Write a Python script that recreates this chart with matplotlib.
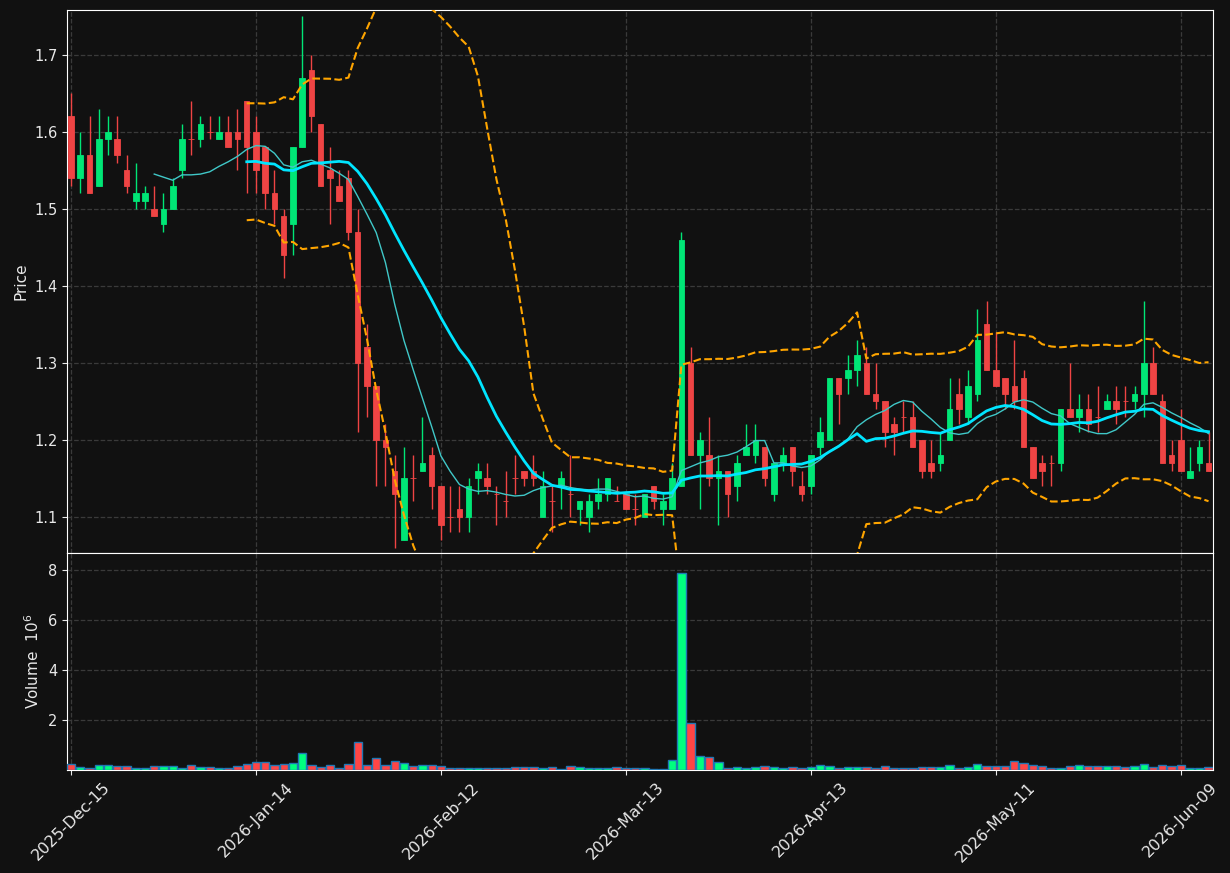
import matplotlib
matplotlib.use("Agg")
import matplotlib.pyplot as plt
import numpy as np
import pandas as pd

# daily OHLC (price) and volume (millions)
opens = [
    1.62, 1.54, 1.57, 1.53, 1.59, 1.59, 1.55, 1.51, 1.51, 1.50,
    1.48, 1.50, 1.55, 1.59, 1.59, 1.60, 1.59, 1.60, 1.60, 1.64,
    1.60, 1.58, 1.52, 1.49, 1.48, 1.58, 1.68, 1.61, 1.55, 1.53,
    1.54, 1.47, 1.32, 1.27, 1.20, 1.16, 1.07, 1.15, 1.16, 1.18,
    1.14, 1.10, 1.11, 1.10, 1.15, 1.15, 1.13, 1.12, 1.15, 1.16,
    1.16, 1.10, 1.12, 1.14, 1.13, 1.11, 1.10, 1.12, 1.13, 1.12,
    1.13, 1.11, 1.10, 1.14, 1.11, 1.11, 1.14, 1.30, 1.18, 1.18,
    1.15, 1.16, 1.14, 1.18, 1.18, 1.19, 1.13, 1.17, 1.19, 1.14,
    1.14, 1.19, 1.20, 1.28, 1.28, 1.29, 1.30, 1.26, 1.25, 1.22,
    1.23, 1.23, 1.20, 1.17, 1.17, 1.20, 1.26, 1.23, 1.26, 1.35,
    1.29, 1.28, 1.27, 1.28, 1.19, 1.17, 1.17, 1.17, 1.24, 1.23,
    1.24, 1.23, 1.24, 1.25, 1.25, 1.25, 1.26, 1.30, 1.25, 1.18,
    1.20, 1.15, 1.17, 1.17,
]
highs = [
    1.65, 1.60, 1.62, 1.63, 1.62, 1.62, 1.57, 1.56, 1.53, 1.53,
    1.52, 1.54, 1.61, 1.64, 1.62, 1.62, 1.62, 1.62, 1.63, 1.64,
    1.62, 1.58, 1.55, 1.50, 1.58, 1.75, 1.70, 1.61, 1.58, 1.55,
    1.55, 1.50, 1.35, 1.27, 1.22, 1.18, 1.19, 1.18, 1.23, 1.19,
    1.14, 1.14, 1.14, 1.15, 1.17, 1.17, 1.14, 1.16, 1.18, 1.16,
    1.18, 1.16, 1.14, 1.16, 1.18, 1.12, 1.13, 1.15, 1.15, 1.14,
    1.13, 1.13, 1.13, 1.14, 1.13, 1.17, 1.47, 1.32, 1.21, 1.23,
    1.18, 1.16, 1.18, 1.22, 1.22, 1.19, 1.17, 1.19, 1.19, 1.16,
    1.18, 1.23, 1.28, 1.28, 1.31, 1.33, 1.32, 1.30, 1.25, 1.23,
    1.25, 1.25, 1.20, 1.20, 1.21, 1.28, 1.28, 1.29, 1.37, 1.38,
    1.34, 1.28, 1.33, 1.29, 1.19, 1.18, 1.18, 1.24, 1.30, 1.26,
    1.26, 1.27, 1.26, 1.27, 1.27, 1.27, 1.38, 1.32, 1.26, 1.20,
    1.24, 1.19, 1.20, 1.21,
]
lows = [
    1.53, 1.52, 1.52, 1.53, 1.57, 1.56, 1.52, 1.50, 1.50, 1.49,
    1.47, 1.50, 1.54, 1.57, 1.58, 1.59, 1.59, 1.58, 1.55, 1.52,
    1.52, 1.50, 1.48, 1.41, 1.44, 1.58, 1.60, 1.53, 1.48, 1.51,
    1.46, 1.21, 1.23, 1.14, 1.14, 1.06, 1.07, 1.12, 1.16, 1.11,
    1.07, 1.08, 1.08, 1.08, 1.13, 1.13, 1.09, 1.10, 1.13, 1.14,
    1.14, 1.10, 1.08, 1.11, 1.10, 1.09, 1.08, 1.11, 1.12, 1.12,
    1.11, 1.09, 1.10, 1.11, 1.09, 1.11, 1.14, 1.18, 1.11, 1.14,
    1.09, 1.10, 1.12, 1.18, 1.17, 1.14, 1.12, 1.16, 1.14, 1.12,
    1.13, 1.18, 1.20, 1.22, 1.26, 1.27, 1.26, 1.24, 1.19, 1.18,
    1.21, 1.19, 1.15, 1.15, 1.16, 1.20, 1.22, 1.22, 1.25, 1.29,
    1.27, 1.24, 1.24, 1.19, 1.15, 1.14, 1.14, 1.16, 1.23, 1.21,
    1.21, 1.21, 1.24, 1.22, 1.23, 1.24, 1.23, 1.26, 1.17, 1.16,
    1.16, 1.15, 1.16, 1.16,
]
closes = [
    1.54, 1.57, 1.52, 1.59, 1.60, 1.57, 1.53, 1.52, 1.52, 1.49,
    1.50, 1.53, 1.59, 1.59, 1.61, 1.60, 1.60, 1.58, 1.59, 1.58,
    1.55, 1.52, 1.50, 1.44, 1.58, 1.67, 1.62, 1.53, 1.54, 1.51,
    1.47, 1.30, 1.27, 1.20, 1.19, 1.13, 1.15, 1.15, 1.17, 1.14,
    1.09, 1.10, 1.10, 1.14, 1.16, 1.14, 1.13, 1.12, 1.15, 1.15,
    1.15, 1.14, 1.12, 1.15, 1.13, 1.12, 1.12, 1.13, 1.15, 1.12,
    1.11, 1.11, 1.13, 1.12, 1.12, 1.15, 1.46, 1.18, 1.20, 1.15,
    1.16, 1.13, 1.17, 1.19, 1.20, 1.15, 1.17, 1.18, 1.16, 1.13,
    1.18, 1.21, 1.28, 1.26, 1.29, 1.31, 1.26, 1.25, 1.21, 1.21,
    1.23, 1.19, 1.16, 1.16, 1.18, 1.24, 1.24, 1.27, 1.33, 1.29,
    1.27, 1.26, 1.25, 1.19, 1.15, 1.16, 1.17, 1.24, 1.23, 1.24,
    1.22, 1.23, 1.25, 1.24, 1.25, 1.26, 1.30, 1.26, 1.17, 1.17,
    1.16, 1.16, 1.19, 1.16,
]
volume_m = [
    0.23, 0.11, 0.07, 0.19, 0.19, 0.15, 0.15, 0.07, 0.07, 0.15,
    0.15, 0.15, 0.07, 0.19, 0.11, 0.11, 0.07, 0.07, 0.15, 0.23,
    0.31, 0.31, 0.19, 0.23, 0.27, 0.67, 0.19, 0.11, 0.19, 0.07,
    0.23, 1.11, 0.19, 0.47, 0.19, 0.35, 0.27, 0.15, 0.19, 0.19,
    0.15, 0.07, 0.07, 0.07, 0.07, 0.07, 0.07, 0.07, 0.11, 0.11,
    0.11, 0.07, 0.11, 0.03, 0.15, 0.11, 0.07, 0.07, 0.07, 0.11,
    0.07, 0.07, 0.07, 0.03, 0.03, 0.39, 7.87, 1.87, 0.55, 0.51,
    0.31, 0.07, 0.11, 0.07, 0.11, 0.15, 0.11, 0.07, 0.11, 0.07,
    0.11, 0.19, 0.15, 0.07, 0.11, 0.11, 0.11, 0.07, 0.15, 0.07,
    0.07, 0.07, 0.11, 0.11, 0.11, 0.19, 0.07, 0.11, 0.23, 0.15,
    0.15, 0.15, 0.35, 0.27, 0.19, 0.15, 0.07, 0.07, 0.15, 0.19,
    0.15, 0.15, 0.15, 0.15, 0.11, 0.15, 0.23, 0.11, 0.19, 0.15,
    0.19, 0.07, 0.07, 0.11,
]

# NYSE trading calendar for the period
start_date = "2025-12-15"
holidays = ["2025-12-25", "2026-01-01", "2026-01-19",
            "2026-02-16", "2026-04-03", "2026-05-25"]
tick_every = 20

BG = "#111111"
UP, DOWN = "#00e676", "#ef4444"
VUP, VDOWN = "#00ff7f", "#ff4545"
FG = "#e8e8e8"

df = pd.DataFrame({"Open": opens, "High": highs, "Low": lows,
                   "Close": closes, "Volume": volume_m})
df.index = pd.bdate_range(start_date, periods=len(df), freq="C",
                          holidays=holidays)

ma10 = df["Close"].rolling(10).mean()
ma20 = df["Close"].rolling(20).mean()
sd20 = df["Close"].rolling(20).std()
bb_up = ma20 + 2 * sd20
bb_lo = ma20 - 2 * sd20

x = np.arange(len(df))
up = (df["Close"] > df["Open"]).values
candle_col = np.where(up, UP, DOWN)
vol_col = np.where(up, VUP, VDOWN)

fig = plt.figure(figsize=(12.3, 8.73), dpi=100, facecolor=BG)
gs = fig.add_gridspec(2, 1, height_ratios=[543, 217], hspace=0,
                      left=0.0545, right=0.986, bottom=0.118, top=0.9885)
ax = fig.add_subplot(gs[0])
axv = fig.add_subplot(gs[1], sharex=ax)

for a in (ax, axv):
    a.set_facecolor(BG)
    a.grid(True, color="#3a3a3a", linestyle="--", linewidth=0.9)
    a.set_axisbelow(True)
    for s in a.spines.values():
        s.set_color("white")
    a.tick_params(colors=FG, labelsize=10.5)

# candles
ax.vlines(x, df["Low"], df["High"], colors=candle_col, linewidth=1, zorder=2)
body_lo = np.minimum(df["Open"], df["Close"])
body_h = (df["Close"] - df["Open"]).abs()
ax.bar(x, body_h, bottom=body_lo, width=0.6, color=candle_col,
       edgecolor=candle_col, linewidth=0.6, zorder=3)

ax.plot(x, ma10, color="#40c8c8", linewidth=1.0, zorder=4)
ax.plot(x, ma20, color="#00e5ff", linewidth=2.0, zorder=4)
ax.plot(x, bb_up, color="#ffa500", linestyle="--", linewidth=1.5, zorder=4)
ax.plot(x, bb_lo, color="#ffa500", linestyle="--", linewidth=1.5, zorder=4)

ax.set_ylim(1.053, 1.758)
ax.set_ylabel("Price", color=FG, fontsize=11)
ax.tick_params(axis="x", which="both", bottom=False, labelbottom=False)

# volume
axv.bar(x, df["Volume"], width=0.9, color=vol_col, edgecolor="#1f77b4",
        linewidth=1.0, zorder=3)
axv.set_ylim(0, 8.68)
axv.set_yticks([2, 4, 6, 8])
axv.set_ylabel("Volume  $10^{6}$", color=FG, fontsize=11)

ticks = x[::tick_every]
axv.set_xticks(ticks)
axv.set_xticklabels([d.strftime("%Y-%b-%d") for d in df.index[::tick_every]],
                    rotation=45, ha="center", fontsize=11.5)
axv.set_xlim(-0.43, len(df) - 0.54)

fig.savefig("out.png", dpi=100, facecolor=BG)
